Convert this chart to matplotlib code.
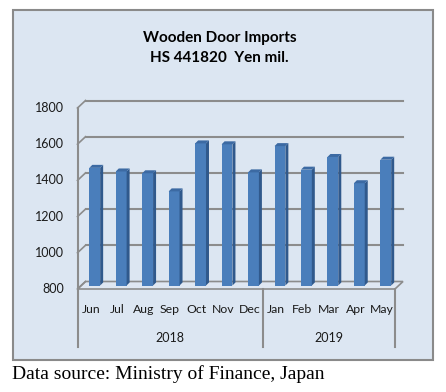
import numpy as np
import matplotlib.pyplot as plt
from matplotlib.patches import Polygon, Rectangle

# Data
months = ['Jun', 'Jul', 'Aug', 'Sep', 'Oct', 'Nov', 'Dec',
          'Jan', 'Feb', 'Mar', 'Apr', 'May']
years = ['2018', '2019']
year_counts = [7, 5]
imports = [1450, 1430, 1420, 1320, 1585, 1580, 1425,
           1570, 1440, 1510, 1365, 1495]
yticks = [800, 1000, 1200, 1400, 1600, 1800]

W, H = 446, 392
fig = plt.figure(figsize=(W / 100, H / 100), dpi=100)

# chart area box
fig.patches.append(Rectangle((12.7 / W, 1 - 360 / H), 420 / W, 350 / H,
                             transform=fig.transFigure, facecolor='#dce6f2',
                             edgecolor='#8a8a8a', lw=1.5, zorder=-5))

# axes = middle depth plane of the 3d plot
ax = fig.add_axes([81.5 / W, 1 - 285.5 / H, 317.5 / W, 181 / H])
ax.set_zorder(2)
ax.set_xlim(-0.5, 11.5)
ax.set_ylim(800, 1800)
ax.axis('off')

# pixel -> data conversion
DX = 12 / 317.5
DY = 1000 / 181.0
front = (-4 * DX, -3.5 * DY)
back = (4 * DX, 4 * DY)
grid_c = '#8c8c8c'
x = np.arange(len(months))
lo, hi = ax.get_xlim()

# floor
floor = Polygon([(lo + front[0], 800 + front[1]), (hi + front[0], 800 + front[1]),
                 (hi + back[0], 800 + back[1]), (lo + back[0], 800 + back[1])],
                closed=True, facecolor='#dfe7f2', edgecolor=grid_c, lw=1.2,
                clip_on=False, zorder=1)
ax.add_patch(floor)

# back wall gridlines + left wall diagonals
for v in yticks:
    if v > 800:
        ax.plot([lo + back[0], hi + back[0]], [v + back[1], v + back[1]],
                color=grid_c, lw=1.5, clip_on=False, zorder=1)
    ax.plot([lo + front[0], lo + back[0]], [v + front[1], v + back[1]],
            color=grid_c, lw=1.2, clip_on=False, zorder=1)
    ax.text(lo + front[0] - 13.5 * DX, v + front[1], str(v), ha='right',
            va='center', fontsize=9, family='Lato', color='#1a1a1a')

# left wall front edge (value axis)
ax.plot([lo + front[0], lo + front[0]], [800 + front[1], 1800 + front[1]],
        color=grid_c, lw=1.5, clip_on=False, zorder=2)

# 3d bars
bw = 0.41
dx, dy = 3 * DX, 3 * DY
ax.bar(x, np.array(imports) - 800, bottom=800, width=bw, color='#4a7ebb',
       zorder=3)
for xi, v in zip(x, imports):
    r = xi + bw / 2
    l = xi - bw / 2
    ax.add_patch(Polygon([(r, 800), (r, v), (r + dx, v + dy), (r + dx, 800 + dy)],
                         closed=True, facecolor='#30598c', lw=0, zorder=3))
    ax.add_patch(Polygon([(l, v), (r, v), (r + dx, v + dy), (l + dx, v + dy)],
                         closed=True, facecolor='#3c6aa3', lw=0, zorder=3))

# category axis
ybase = 800 + front[1]
for xi, m in zip(x, months):
    ax.text(xi + front[0], ybase - 20.5 * DY, m, ha='center', va='center',
            fontsize=8.8, family='Lato', color='#1a1a1a')
edges = np.concatenate([[0], np.cumsum(year_counts)]) - 0.5
for e in edges:
    ax.plot([e + front[0], e + front[0]], [ybase, ybase - 58 * DY],
            color=grid_c, lw=1.5, clip_on=False, zorder=2)
for i, yr in enumerate(years):
    c = (edges[i] + edges[i + 1]) / 2 + front[0]
    ax.text(c, ybase - 49 * DY, yr, ha='center', va='center', fontsize=9,
            family='Lato', color='#1a1a1a')

# titles
fig.text(219.5 / W, 1 - 37.7 / H, 'Wooden Door Imports', ha='center',
         va='center', fontsize=11, fontweight='bold', family='Lato')
fig.text(219.5 / W, 1 - 58.3 / H, 'HS 441820  Yen mil.', ha='center',
         va='center', fontsize=11, fontweight='bold', family='Lato')

fig.text(12 / W, 1 - 379 / H, 'Data source: Ministry of Finance, Japan',
         ha='left', va='baseline', fontsize=14, family='Liberation Serif')

fig.savefig('out.png', dpi=100)
